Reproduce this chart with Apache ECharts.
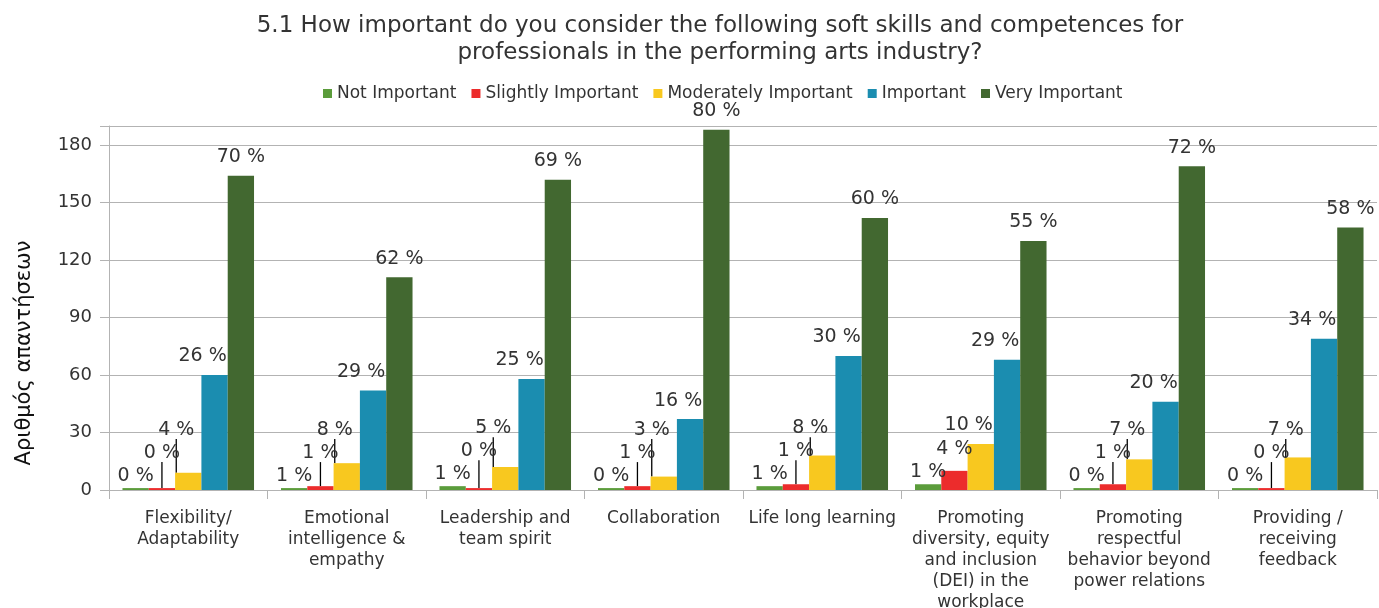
<!DOCTYPE html>
<html>
<head>
<meta charset="utf-8">
<script src="https://cdn.jsdelivr.net/npm/echarts@6/dist/echarts.min.js"></script>
<style>
  html, body { margin: 0; padding: 0; background: #ffffff; }
  #chart { width: 1379px; height: 608px; }
</style>
</head>
<body>
<div id="chart"></div>
<script>
// ---- data ----
var categories = [
  'Flexibility/\nAdaptability',
  'Emotional\nintelligence &\nempathy',
  'Leadership and\nteam spirit',
  'Collaboration',
  'Life long learning',
  'Promoting\ndiversity, equity\nand inclusion\n(DEI) in the\nworkplace',
  'Promoting\nrespectful\nbehavior beyond\npower relations',
  'Providing /\nreceiving\nfeedback'
];
var seriesNames = ['Not Important', 'Slightly Important', 'Moderately Important', 'Important', 'Very Important'];
var notImportant        = [1, 1, 2, 1, 2, 3, 1, 1];
var slightlyImportant   = [1, 2, 1, 2, 3, 10, 3, 1];
var moderatelyImportant = [9, 14, 12, 7, 18, 24, 16, 17];
var important           = [60, 52, 58, 37, 70, 68, 46, 79];
var veryImportant       = [164, 111, 162, 188, 142, 130, 169, 137];
var yTicks = { min: 0, max: 190, interval: 30 };

var seriesValues = [notImportant, slightlyImportant, moderatelyImportant, important, veryImportant];
var colors = ['#5b9c3b', '#ec2c2c', '#f8c81f', '#1b8db0', '#426830'];
var totals = categories.map(function (c, i) {
  return seriesValues.reduce(function (s, arr) { return s + arr[i]; }, 0);
});

var FONT = '"DejaVu Sans", sans-serif';
var STEP = 23, GAP_FIRST = 3, GAP = 9, LINE_MIN = 17;

// label bottom (pixels) for series s in category i, given a value->pixel function
function labelBottom(s, i, toY) {
  var bottom = 0;
  for (var k = 0; k <= s; k++) {
    var b = toY(seriesValues[k][i]) - (k === 0 ? GAP_FIRST : GAP);
    if (k > 0) b = Math.min(b, bottom - STEP);
    bottom = b;
  }
  return bottom;
}

function labelLayout(p) {
  var s = p.seriesIndex, i = p.dataIndex;
  var v = seriesValues[s][i];
  var rh = Math.abs(p.rect.height);
  var ppu = rh / v;
  var base = p.rect.y + rh;
  var bottom = labelBottom(s, i, function (val) { return base - val * ppu; });
  var cx = p.rect.x + p.rect.width / 2;
  var dx = (s === 2 || s === 3) ? -12 : 0;
  return { x: cx + dx, y: bottom, align: 'center', verticalAlign: 'bottom' };
}

function buildSeries(showLine) {
  return seriesValues.map(function (vals, s) {
    return {
      name: seriesNames[s],
      type: 'bar',
      data: vals.map(function (v, i) {
        return { value: v, labelLine: { show: showLine ? showLine[s][i] : false } };
      }),
      barGap: '0%',
      barCategoryGap: '17%',
      itemStyle: { color: colors[s] },
      label: {
        show: true,
        position: 'top',
        fontFamily: FONT,
        fontSize: 19,
        color: '#333333',
        formatter: function (p) { return Math.round(p.value / totals[p.dataIndex] * 100) + ' %'; }
      },
      labelLine: { show: false, lineStyle: { color: '#000000', width: 1.3 } },
      labelLayout: labelLayout
    };
  });
}

var chart = echarts.init(document.getElementById('chart'));
chart.setOption({
  backgroundColor: '#ffffff',
  animation: false,
  title: {
    text: '5.1 How important do you consider the following soft skills and competences for\nprofessionals in the performing arts industry?',
    left: 715,
    textAlign: 'center',
    top: 8,
    textStyle: { fontFamily: FONT, fontSize: 23, fontWeight: 'normal', color: '#333333', lineHeight: 27 }
  },
  legend: {
    data: seriesNames,
    top: 80,
    left: 318,
    icon: 'rect',
    itemWidth: 9,
    itemHeight: 9,
    itemGap: 15,
    textStyle: { fontFamily: FONT, fontSize: 17, color: '#333333' }
  },
  grid: { left: 109, right: 2, top: 126, bottom: 118, outerBoundsMode: 'none', containLabel: false },
  xAxis: {
    type: 'category',
    data: categories,
    axisLine: { lineStyle: { color: '#b3b3b3' } },
    axisTick: { show: true, length: 9, alignWithLabel: false, lineStyle: { color: '#b3b3b3' } },
    axisLabel: { interval: 0, fontFamily: FONT, fontSize: 17, lineHeight: 21, color: '#333333', margin: 18 }
  },
  yAxis: {
    type: 'value',
    min: yTicks.min,
    max: yTicks.max,
    interval: yTicks.interval,
    name: 'Αριθμός απαντήσεων',
    nameLocation: 'middle',
    nameGap: 74,
    nameTextStyle: { fontFamily: FONT, fontSize: 21, color: '#111111', padding: [0, 90, 0, 0] },
    axisLine: { show: true, lineStyle: { color: '#b3b3b3' } },
    axisTick: { show: true, length: 9, lineStyle: { color: '#b3b3b3' } },
    axisLabel: {
      fontFamily: FONT, fontSize: 18, color: '#333333', margin: 17,
      formatter: function (v) { return v > 180 ? '' : String(v); }
    },
    splitLine: { show: true, lineStyle: { color: '#b3b3b3' } }
  },
  series: buildSeries(null)
});

// decide which labels need a leader line, using the chart's own value scale
var toY = function (val) { return chart.convertToPixel({ yAxisIndex: 0 }, val); };
var showLine = seriesValues.map(function (vals, s) {
  return vals.map(function (v, i) {
    return (toY(v) - labelBottom(s, i, toY)) > LINE_MIN;
  });
});
chart.setOption({ series: buildSeries(showLine) });
</script>
</body>
</html>
